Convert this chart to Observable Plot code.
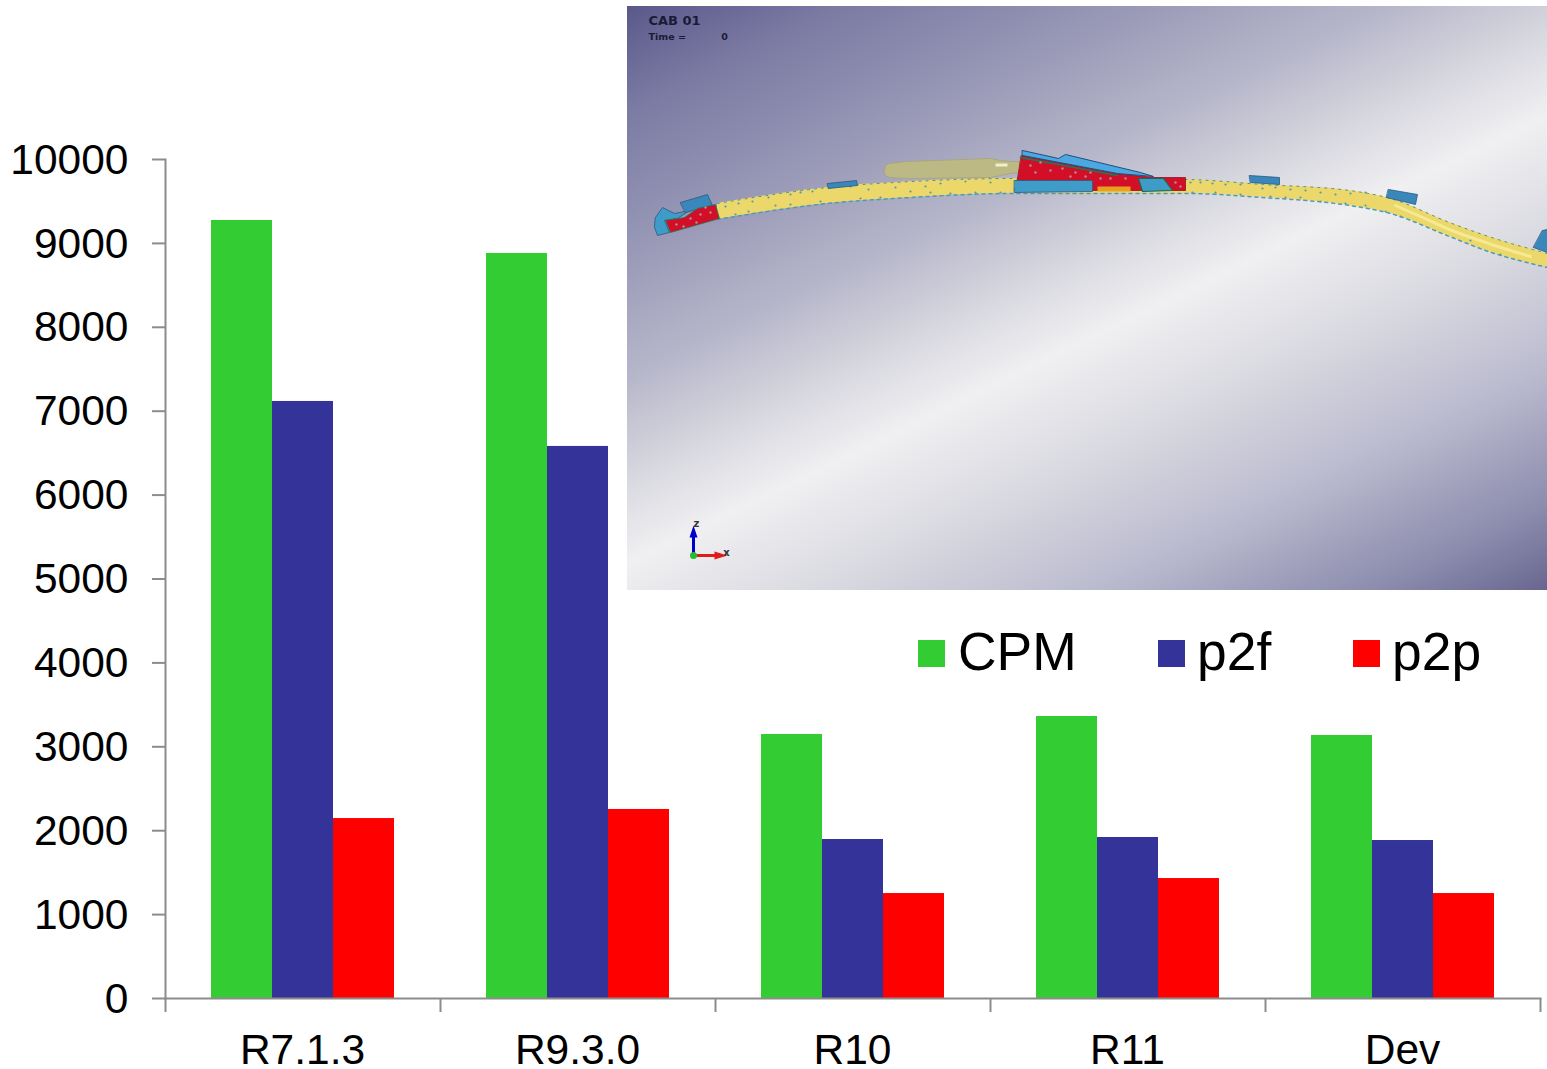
<!DOCTYPE html>
<html>
<head>
<meta charset="utf-8">
<script src="https://cdn.jsdelivr.net/npm/d3@7"></script>
<script src="https://cdn.jsdelivr.net/npm/@observablehq/plot@0.6"></script>
<style>
  html, body { margin: 0; padding: 0; background: #fff; }
  #stage { position: relative; width: 1547px; height: 1069px; overflow: hidden; font-family: "Liberation Sans", Arial, sans-serif; }
  #stage > svg { position: absolute; left: 0; top: 0; }
  #inset { position: absolute; left: 627px; top: 6px; width: 920px; height: 584px; }
  .lg { position: absolute; color: #000; font-size: 53.4px; line-height: 60px; top: 622px; white-space: nowrap; }
  .sw { position: absolute; width: 27px; height: 27px; top: 640px; }
</style>
</head>
<body>
<div id="stage"></div>
<script>
// ---- chart values ----
const categories = ["R7.1.3", "R9.3.0", "R10", "R11", "Dev"];
const cpm = [9273, 8880, 3147, 3361, 3135];
const p2f = [7116, 6580, 1895, 1919, 1883];
const p2p = [2145, 2253, 1251, 1430, 1251];
const seriesNames = ["CPM", "p2f", "p2p"];
const seriesColors = ["#33cc33", "#333399", "#ff0000"];
const yTicks = [0, 1000, 2000, 3000, 4000, 5000, 6000, 7000, 8000, 9000, 10000];

// ---- inset picture outlines ----
const tubeX   = [717, 780, 827, 894, 1014, 1185, 1262, 1349, 1390, 1449, 1488, 1547];
const tubeTop = [203, 193, 187, 182, 178, 179, 184, 190, 198, 222, 236, 253];
const tubeBot = [219, 209, 203, 198, 193, 193, 197, 205, 213, 236, 251, 267];
const tubeGlowX = [1395, 1420, 1449, 1488, 1530];
const tubeGlowY = [205, 216, 229, 243, 256];
const blueCap = [[654,227],[657,235],[669,232],[664,220],[677,218],[689,210],[674,213],[662,207],[655,217]];
const redEnd  = [[665,220],[670,232],[719,218],[715,204],[697,208],[684,217]];
const plateA  = [[680,202],[707,194],[712,205],[685,212]];
const plateB  = [[827,183],[856,180],[857,185],[828,188]];
const plateC  = [[1249,175],[1279,177],[1279,184],[1250,182]];
const plateD  = [[1388,189],[1417,194],[1415,204],[1386,197]];
const plateE  = [[1542,230],[1547,229],[1547,252],[1533,247]];
const pod     = [[884,170],[885,165],[889,163],[907,161],[990,158],[1000,160],[1010,161],[1019,161],[1019,172],[1010,173],[1000,175],[990,177],[907,178],[889,177],[885,175]];
const podGlow = [[995,163],[1007,163],[1007,166],[995,166]];
const redMid  = [[1021,155],[1117,173],[1153,177],[1185,177],[1185,190],[1014,190],[1017,178]];
const blueTop = [[1022,150],[1058,158],[1065,154],[1140,172],[1153,176],[1117,173],[1022,155]];
const greenLn = [[1020,157],[1117,175]];
const blueBox = [[1014,180],[1092,180],[1092,191],[1014,192]];
const orange  = [[1097,186],[1130,186],[1130,191],[1097,191]];
const blueRnd = [[1138,178],[1163,178],[1172,190],[1142,191]];
const speckleTube = [[725,206],[738,203],[752,201],[768,197],[790,194],[800,192],[812,191],[850,186],[868,189],[895,187],[910,191],[925,186],[940,183],[965,181],[990,182],
  [735,214],[748,211],[775,205],[790,204],[820,201],[860,198],[880,197],[930,192],[950,193],[975,192],[1000,192],
  [1190,182],[1200,182],[1212,183],[1225,184],[1240,184],[1262,188],[1275,187],[1290,189],[1305,190],[1320,192],[1335,194],[1350,193],[1365,192],
  [1192,192],[1215,192],[1240,194],[1270,196],[1285,197],[1300,197],[1320,201],[1345,203],[1365,205],[1385,211],[1400,216],[1470,240],[1500,254]];
const speckleRed = [[700,214],[690,218],[705,207],[676,224],[710,212],[696,222],[683,226],[1030,165],[1035,172],[1050,170],[1062,168],[1075,172],[1090,172],[1040,162],[1070,176],[1100,178],[1110,178],[1125,178],[1085,176],[1175,182],[1180,186]];

// ---- bar table ----
const rows = categories.flatMap((c, i) => [
  {category: c, series: "CPM", value: cpm[i]},
  {category: c, series: "p2f", value: p2f[i]},
  {category: c, series: "p2p", value: p2p[i]}
]);
const of = s => rows.filter(d => d.series === s);
const grey = "#8c8c8c";
const band = 275;

const chart = Plot.plot({
  width: 1547, height: 1069,
  marginLeft: 165, marginRight: 7, marginTop: 159, marginBottom: 71,
  style: {fontFamily: '"Liberation Sans", Arial, sans-serif', background: "transparent"},
  x: {type: "band", domain: categories, paddingInner: 0, paddingOuter: 0, label: null},
  y: {domain: [0, 10000], label: null},
  color: {domain: seriesNames, range: seriesColors},
  marks: [
    Plot.barY(of("CPM"), {x: "category", y: "value", fill: "series", insetLeft: 46, insetRight: 168}),
    Plot.barY(of("p2f"), {x: "category", y: "value", fill: "series", insetLeft: 107, insetRight: 107}),
    Plot.barY(of("p2p"), {x: "category", y: "value", fill: "series", insetLeft: 168, insetRight: 46}),
    Plot.frame({anchor: "left", stroke: grey, strokeWidth: 2}),
    Plot.frame({anchor: "bottom", stroke: grey, strokeWidth: 2}),
    Plot.axisY({ticks: yTicks, tickSize: 13, fill: "none", stroke: grey, strokeWidth: 2, label: null}),
    Plot.axisY({ticks: yTicks, tickSize: 13, tickPadding: 24, stroke: "none", fill: "#000", fontSize: 42.5, dy: 0.5, tickFormat: d => String(d), label: null}),
    Plot.axisX({tickSize: 14, tickFormat: null, stroke: grey, strokeWidth: 2, dx: -band / 2, label: null}),
    Plot.axisX({ticks: ["Dev"], tickSize: 14, tickFormat: null, stroke: grey, strokeWidth: 2, dx: band / 2, label: null}),
    Plot.axisX({tickSize: 0, tickPadding: 35, stroke: "none", fill: "#000", fontSize: 42.5, dx: -0.5, label: null})
  ]
});
document.getElementById("stage").appendChild(chart);

// ---- inset ----
const poly = (pts, fill, stroke = "#27597f", strokeWidth = 0.8) =>
  Plot.line(pts, {x: d => d[0], y: d => d[1], fill, stroke, strokeWidth, curve: "linear-closed"});
const tube = tubeX.map((x, i) => ({x, top: tubeTop[i], bot: tubeBot[i]}));
const glow = tubeGlowX.map((x, i) => ({x, y: tubeGlowY[i]}));

const inset = Plot.plot({
  width: 920, height: 584,
  marginLeft: 0, marginRight: 0, marginTop: 0, marginBottom: 0,
  x: {domain: [627, 1547], axis: null},
  y: {domain: [590, 6], axis: null},
  clip: true,
  style: {
    display: "block",
    background: "linear-gradient(154deg, #5a588a 0%, #7b7aa3 10%, #9494b4 22%, #b6b6ca 36%, #d8d8e0 46%, #f0f0f2 54%, #d8d8e0 66%, #bcbcd0 78%, #8b8bad 92%, #68668f 100%)",
    fontFamily: '"DejaVu Sans", sans-serif'
  },
  marks: [
    Plot.areaY(tube, {x: "x", y1: "top", y2: "bot", fill: "#ecd86a", curve: "monotone-x"}),
    Plot.line(glow, {x: "x", y: "y", stroke: "#f5ea94", strokeWidth: 3, curve: "monotone-x"}),
    Plot.line(tube, {x: "x", y: "bot", stroke: "#4e9bb5", strokeWidth: 1.5, strokeDasharray: "3 4", curve: "monotone-x"}),
    Plot.line(tube, {x: "x", y: "top", stroke: "#4e8f8f", strokeWidth: 1, strokeDasharray: "2 5", curve: "monotone-x"}),
    Plot.dot(speckleTube, {x: d => d[0], y: d => d[1], r: 1.1, fill: "#4e9bb5"}),
    poly(blueCap, "#3f9bc8"),
    poly(plateA, "#3a87bb"),
    poly(redEnd, "#d30f28", "#1c7a56"),
    poly(plateB, "#3a87bb"),
    poly(plateC, "#3a87bb"),
    poly(plateD, "#3a87bb"),
    poly(plateE, "#3a87bb"),
    poly(pod, "#bdb984", "#a9a473"),
    poly(podGlow, "#f2eec6", "none"),
    poly(redMid, "#d30f28", "#8c1525"),
    poly(blueTop, "#4ba8e0", "#1f4f7f", 1),
    Plot.line(greenLn, {x: d => d[0], y: d => d[1], stroke: "#1c7a56", strokeWidth: 1.5}),
    poly(blueBox, "#3f9bc8"),
    poly(orange, "#e8a020", "none"),
    poly(blueRnd, "#3f9bc8", "#1c6a56", 1.2),
    Plot.dot(speckleRed, {x: d => d[0], y: d => d[1], r: 1.2, fill: "#a98f9f"}),
    Plot.line([[693, 555], [693, 535]], {x: d => d[0], y: d => d[1], stroke: "#0000cc", strokeWidth: 3}),
    poly([[693, 525], [689, 537], [697, 537]], "#0000cc", "none"),
    Plot.line([[693, 555], [715, 555]], {x: d => d[0], y: d => d[1], stroke: "#e01b1b", strokeWidth: 3}),
    poly([[727, 555], [714, 551], [714, 559]], "#e01b1b", "none"),
    Plot.dot([[693, 555]], {x: d => d[0], y: d => d[1], r: 3.5, fill: "#22bb33"}),
    Plot.text(["CAB 01"], {x: 648, y: 20, text: d => d, textAnchor: "start", fontSize: 13, fontWeight: "bold", fill: "#1a1a38"}),
    Plot.text(["Time ="], {x: 648, y: 36.5, text: d => d, textAnchor: "start", fontSize: 9.5, fontWeight: "bold", fill: "#1a1a38"}),
    Plot.text(["0"], {x: 724, y: 36.5, text: d => d, fontSize: 9.5, fontWeight: "bold", fill: "#1a1a38"}),
    Plot.text(["z"], {x: 696, y: 523, text: d => d, fontSize: 10, fontWeight: "bold", fill: "#333"}),
    Plot.text(["x"], {x: 726, y: 552, text: d => d, fontSize: 10, fontWeight: "bold", fill: "#333"})
  ]
});
const holder = document.createElement("div");
holder.id = "inset";
holder.appendChild(inset);
document.getElementById("stage").appendChild(holder);

// ---- legend ----
const legendSwatchX = [918, 1158, 1353];
const legendTextX = [958, 1197, 1392];
seriesNames.forEach((name, i) => {
  const sw = document.createElement("div");
  sw.className = "sw";
  sw.style.left = legendSwatchX[i] + "px";
  sw.style.background = seriesColors[i];
  const tx = document.createElement("div");
  tx.className = "lg";
  tx.style.left = legendTextX[i] + "px";
  tx.textContent = name;
  document.getElementById("stage").append(sw, tx);
});
</script>
</body>
</html>
